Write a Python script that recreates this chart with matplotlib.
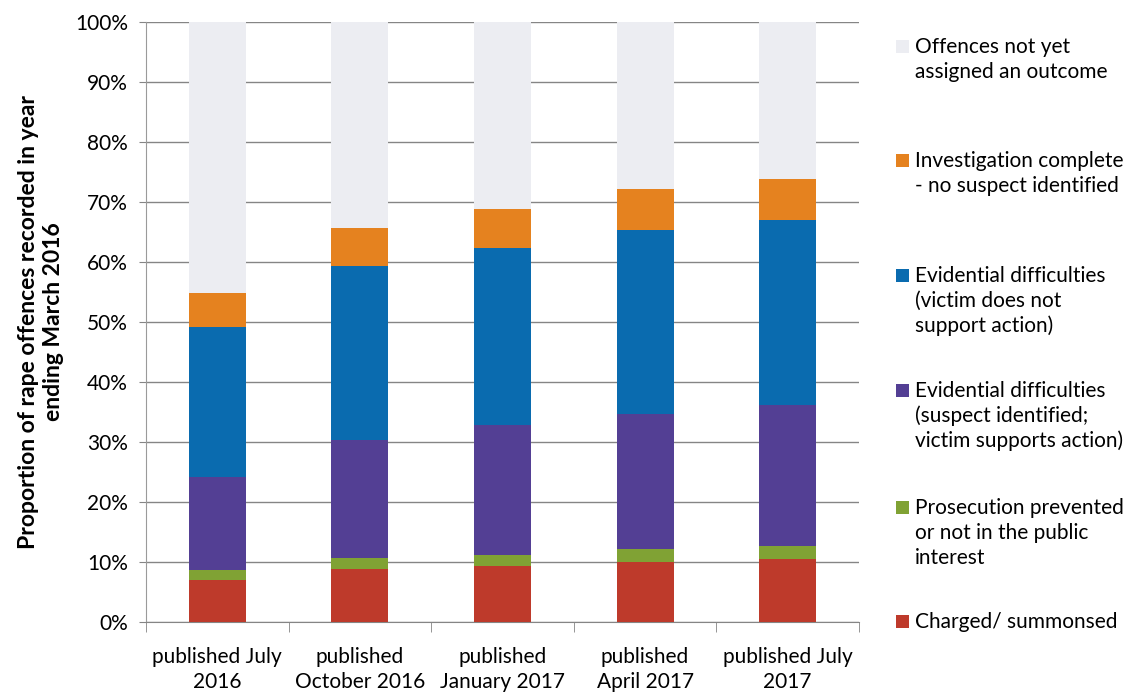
import matplotlib
matplotlib.use("Agg")
import matplotlib.pyplot as plt
from matplotlib.patches import Rectangle
from matplotlib.ticker import PercentFormatter, FixedLocator

plt.rcParams["font.family"] = ["Lato", "DejaVu Sans"]

publications = [
    "published July\n2016",
    "published\nOctober 2016",
    "published\nJanuary 2017",
    "published\nApril 2017",
    "published July\n2017",
]

# outcome shares (%) for each publication, bottom to top of the stack
charged = [7.0, 8.9, 9.4, 10.0, 10.5]
prosecution_prevented = [1.6, 1.8, 1.7, 2.1, 2.1]
suspect_identified = [15.5, 19.7, 21.8, 22.5, 23.6]
victim_not_supporting = [25.0, 29.0, 29.5, 30.7, 30.8]
no_suspect = [5.7, 6.2, 6.4, 6.8, 6.8]
not_yet_assigned = [45.2, 34.4, 31.2, 27.9, 26.2]

series_labels = [
    "Charged/ summonsed",
    "Prosecution prevented\nor not in the public\ninterest",
    "Evidential difficulties\n(suspect identified;\nvictim supports action)",
    "Evidential difficulties\n(victim does not\nsupport action)",
    "Investigation complete\n- no suspect identified",
    "Offences not yet\nassigned an outcome",
]
series_values = [charged, prosecution_prevented, suspect_identified,
                 victim_not_supporting, no_suspect, not_yet_assigned]
colors = ["#BE3A2B", "#80A234", "#533F94", "#0A6BAF", "#E5821F", "#ECEDF2"]

W, H = 1137, 693
fig = plt.figure(figsize=(W / 100, H / 100), dpi=100)
ax = fig.add_axes([146 / W, 1 - 622 / H, (859 - 146) / W, 600 / H])

x = list(range(len(publications)))
bottom = [0.0] * len(x)
for vals, col in zip(series_values, colors):
    ax.bar(x, vals, width=0.4, bottom=bottom, color=col, zorder=3)
    bottom = [b + v for b, v in zip(bottom, vals)]

ax.set_xlim(-0.5, len(x) - 0.5)
ax.set_ylim(0, 100)
ax.yaxis.set_major_locator(FixedLocator(range(0, 101, 10)))
ax.yaxis.set_major_formatter(PercentFormatter(100, decimals=0))
ax.grid(axis="y", color="#858585", linewidth=1.0, zorder=0)

ax.set_xticks(x)
ax.set_xticklabels(publications, fontsize=15, linespacing=1.32)
ax.xaxis.set_minor_locator(FixedLocator([i - 0.5 for i in range(len(x) + 1)]))
ax.tick_params(axis="x", which="major", length=0, pad=18)
ax.tick_params(axis="x", which="minor", length=7, color="#858585")
ax.tick_params(axis="y", length=5, color="#858585", labelsize=15, pad=8)

for side in ("top", "right"):
    ax.spines[side].set_visible(False)
ax.spines["left"].set_color("#9a9a9a")
ax.spines["bottom"].set_color("#858585")

fig.text(41 / W, 1 - 322 / H,
         "Proportion of rape offences recorded in year\nending March 2016",
         rotation=90, ha="center", va="center", fontsize=16.5,
         fontweight="bold", linespacing=1.2)

# legend entries, top to bottom, drawn at fixed pitch
first_line_y = [47, 161, 276, 391, 508, 622]
line_h = 25
for label, col, y0 in zip(series_labels[::-1], colors[::-1], first_line_y):
    fig.patches.append(Rectangle((896 / W, 1 - (y0 + 6) / H), 13 / W, 13 / H,
                                 transform=fig.transFigure, facecolor=col,
                                 edgecolor="none"))
    for k, line in enumerate(label.split("\n")):
        fig.text(915 / W, 1 - (y0 + k * line_h) / H, line, fontsize=15,
                 ha="left", va="center")

fig.savefig("out.png", dpi=100, facecolor="white")
